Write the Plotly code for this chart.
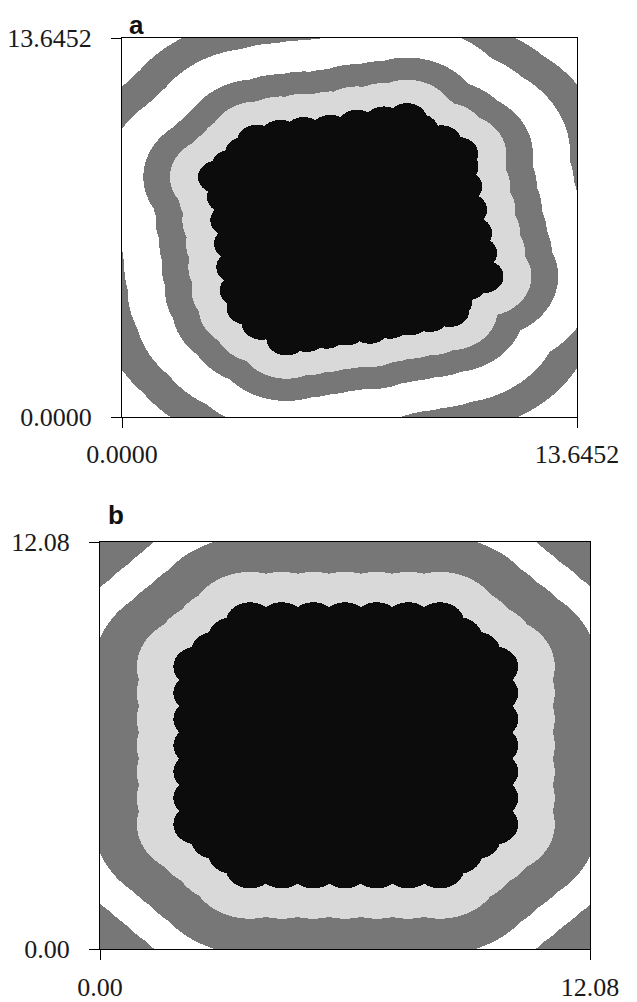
import numpy as np
import plotly.graph_objects as go

# ---------------- data ----------------
# Panel a: box edge length and boundary atom centres of the cluster (clockwise)
BOX_A = 13.6452
ATOMS_A_X = [3.28, 3.69, 4.05, 4.75, 5.45, 6.25, 7.05, 7.85, 8.55, 8.89, 9.58, 10.08,
             10.09, 10.20, 10.35, 10.50, 10.65, 10.84, 10.34, 9.90,
             9.82, 9.22, 8.63, 8.03, 7.43, 6.73, 6.13, 5.53, 4.93, 4.19, 3.74,
             3.53, 3.43, 3.36, 3.25, 3.15, 2.88]
ATOMS_A_Y = [9.03, 9.49, 9.92, 10.10, 10.20, 10.28, 10.46, 10.58, 10.70, 10.32, 9.90, 9.48,
             9.02, 8.30, 7.46, 6.62, 5.90, 5.06, 4.80, 4.14,
             3.84, 3.66, 3.54, 3.42, 3.24, 3.18, 3.06, 2.94, 2.82, 3.38, 3.92,
             4.56, 5.40, 6.24, 7.08, 7.92, 8.64]
# distances (from the cluster surface) where the grey bands change
LEVELS_A = [0.84, 1.64, 2.76, 3.75, 5.2]
TICKS_A = ["0.0000", "13.6452"]

# Panel b
BOX_B = 12.08
ATOMS_B_X = [3.70, 4.48, 5.26, 6.04, 6.82, 7.60, 8.38, 8.82, 9.27,
             9.71, 9.71, 9.71, 9.71, 9.71, 9.71, 9.71, 9.27, 8.82,
             8.38, 7.60, 6.82, 6.04, 5.26, 4.48, 3.70, 3.27, 2.84,
             2.41, 2.41, 2.41, 2.41, 2.41, 2.41, 2.41, 2.84, 3.27]
ATOMS_B_Y = [9.69, 9.69, 9.69, 9.69, 9.69, 9.69, 9.69, 9.25, 8.82,
             8.38, 7.60, 6.82, 6.04, 5.26, 4.48, 3.70, 3.27, 2.83,
             2.40, 2.40, 2.40, 2.40, 2.40, 2.40, 2.40, 2.83, 3.27,
             3.70, 4.48, 5.26, 6.04, 6.82, 7.60, 8.38, 8.82, 9.25]
LEVELS_B = [0.90, 1.95, 2.77, 3.90, 5.2]
TICKS_B = ["0.00", "12.08"]

ATOM_RADIUS = 0.6

PANEL_LABELS = ["a", "b"]
COLORS = ["#0c0c0c", "#d9d9d9", "#777777", "#ffffff"]


def band_grid(ax, ay, box, radius, levels, nx, ny):
    xs = (np.arange(nx) + 0.5) * box / nx
    ys = (np.arange(ny) + 0.5) * box / ny
    X, Y = np.meshgrid(xs, ys)
    dmin = np.full(X.shape, np.inf)
    for cx, cy in zip(ax, ay):
        dmin = np.minimum(dmin, np.hypot(X - cx, Y - cy))
    d = dmin - radius
    # point in polygon (cluster interior)
    inside = np.zeros(X.shape, dtype=bool)
    n = len(ax)
    j = n - 1
    for i in range(n):
        xi, yi, xj, yj = ax[i], ay[i], ax[j], ay[j]
        cond = ((yi > Y) != (yj > Y)) & (X < (xj - xi) * (Y - yi) / (yj - yi + 1e-12) + xi)
        inside ^= cond
        j = i
    idx = np.searchsorted(np.asarray(levels), d, side="right")
    code = np.where(idx == 0, 1, np.where(idx % 2 == 1, 2, 3))
    code = np.where(inside | (d < 0), 0, code)
    return xs, ys, code.astype(np.int8)


colorscale = []
for i, c in enumerate(COLORS):
    colorscale.append([i / len(COLORS), c])
    colorscale.append([(i + 1) / len(COLORS), c])

# the page body adds an 8 px margin, so the figure is 8 px smaller than the window
W, H = 629, 994
# plot areas in figure pixels: (left, right, top, bottom)
AREA_A = (114, 569, 30, 409)
AREA_B = (92, 582, 534, 941)

fig = go.Figure()
xa, ya, za = band_grid(ATOMS_A_X, ATOMS_A_Y, BOX_A, ATOM_RADIUS, LEVELS_A,
                       AREA_A[1] - AREA_A[0], AREA_A[3] - AREA_A[2])
xb, yb, zb = band_grid(ATOMS_B_X, ATOMS_B_Y, BOX_B, ATOM_RADIUS, LEVELS_B,
                       AREA_B[1] - AREA_B[0], AREA_B[3] - AREA_B[2])

fig.add_trace(go.Heatmap(x=xa, y=ya, z=za, colorscale=colorscale, zmin=-0.5, zmax=3.5,
                         showscale=False, zsmooth=False, hoverinfo="skip",
                         xaxis="x", yaxis="y"))
fig.add_trace(go.Heatmap(x=xb, y=yb, z=zb, colorscale=colorscale, zmin=-0.5, zmax=3.5,
                         showscale=False, zsmooth=False, hoverinfo="skip",
                         xaxis="x2", yaxis="y2"))

tickfont = dict(family="Liberation Serif, Times New Roman, serif", size=26, color="#1a1a1a")


def axis(domain, box, labels, standoff, anchor):
    return dict(domain=domain, range=[0, box], tickvals=[0, box], ticktext=labels,
                ticks="outside", ticklen=10, tickwidth=1, tickcolor="black",
                showline=True, linecolor="black", linewidth=1, mirror=True,
                showgrid=False, zeroline=False, tickfont=tickfont, automargin=False,
                ticklabelstandoff=standoff, anchor=anchor, fixedrange=True)


fig.update_layout(
    width=W, height=H, margin=dict(l=0, r=0, t=0, b=0, autoexpand=False),
    paper_bgcolor="white", plot_bgcolor="white", showlegend=False,
    xaxis=axis([AREA_A[0] / W, AREA_A[1] / W], BOX_A, TICKS_A, 4, "y"),
    yaxis=axis([1 - AREA_A[3] / H, 1 - AREA_A[2] / H], BOX_A, TICKS_A, 14, "x"),
    xaxis2=axis([AREA_B[0] / W, AREA_B[1] / W], BOX_B, TICKS_B, 5, "y2"),
    yaxis2=axis([1 - AREA_B[3] / H, 1 - AREA_B[2] / H], BOX_B, TICKS_B, 14, "x2"),
)

letter_font = dict(family="Liberation Sans, Arial, sans-serif", size=26, color="#111111")
fig.add_annotation(text="<b>%s</b>" % PANEL_LABELS[0], x=119 / W, y=1.0,
                   xref="paper", yref="paper", xanchor="left", yanchor="top",
                   showarrow=False, font=letter_font)
fig.add_annotation(text="<b>%s</b>" % PANEL_LABELS[1], x=98 / W, y=1 - 490 / H,
                   xref="paper", yref="paper", xanchor="left", yanchor="top",
                   showarrow=False, font=letter_font)

fig.write_html("out.html")
